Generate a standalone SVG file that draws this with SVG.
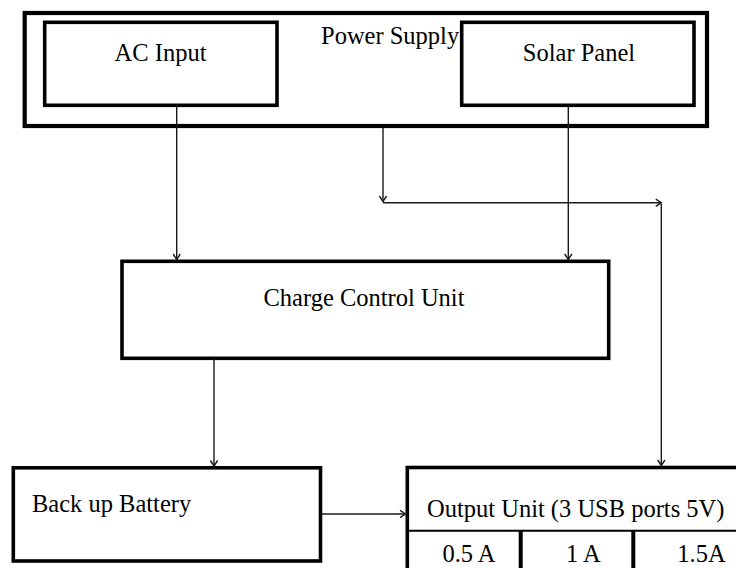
<svg xmlns="http://www.w3.org/2000/svg" width="736" height="568" viewBox="0 0 736 568">
  <style>
    .box { fill: #ffffff; stroke: #000000; stroke-width: 3.6; }
    .outer { fill: #ffffff; stroke: #000000; stroke-width: 4.2; }
    .lbl { font-family: "Liberation Serif", "Times New Roman", serif; font-size: 24.5px; fill: #000000; }
    .mid { text-anchor: middle; }
    .conn { fill: none; stroke: #1a1a1a; stroke-width: 1.4; }
    .thin { fill: none; stroke: #000000; stroke-width: 2; }
    .thick { fill: none; stroke: #000000; stroke-width: 4; }
  </style>
  <defs>
    <marker id="arr" viewBox="-7 -6 10 12" refX="0" refY="0" markerWidth="10" markerHeight="12" markerUnits="userSpaceOnUse" orient="auto">
      <path d="M-5.5,-3.6 L0,0 L-5.5,3.6" fill="none" stroke="#1a1a1a" stroke-width="1.4"/>
    </marker>
  </defs>
  <rect width="736" height="568" fill="#ffffff"/>

  <g id="power-supply">
    <rect class="outer" x="24.7" y="13" width="682.3" height="113"/>
    <text class="lbl" x="321" y="44">Power Supply</text>
  </g>

  <g id="ac-input">
    <rect class="box" x="44.7" y="22.3" width="232.3" height="83"/>
    <text class="lbl mid" x="160.5" y="60.5">AC Input</text>
  </g>

  <g id="solar-panel">
    <rect class="box" x="461.7" y="22.3" width="232.3" height="83"/>
    <text class="lbl mid" x="579" y="60.5">Solar Panel</text>
  </g>

  <g id="charge-control-unit">
    <rect class="box" x="122" y="261.3" width="486.7" height="97"/>
    <text class="lbl mid" x="364" y="306">Charge Control Unit</text>
  </g>

  <g id="backup-battery">
    <rect class="box" x="13.3" y="467.8" width="307.2" height="93.2"/>
    <text class="lbl" x="32" y="512">Back up Battery</text>
  </g>

  <g id="output-unit">
    <rect class="box" x="407.3" y="467.5" width="345" height="110"/>
    <line class="thin" x1="407.3" y1="530.7" x2="740" y2="530.7"/>
    <line class="thick" x1="520.7" y1="530.7" x2="520.7" y2="570"/>
    <line class="thick" x1="633.3" y1="530.7" x2="633.3" y2="570"/>
    <text class="lbl" x="427" y="516.5">Output Unit (3 USB ports 5V)</text>
    <text class="lbl mid" x="469" y="561.5">0.5 A</text>
    <text class="lbl mid" x="583.3" y="561.5">1 A</text>
    <text class="lbl mid" x="701.5" y="561.5">1.5A</text>
  </g>

  <g id="connectors">
    <line class="conn" x1="176.7" y1="105" x2="176.7" y2="259.5" marker-end="url(#arr)"/>
    <line class="conn" x1="568.3" y1="105" x2="568.3" y2="259.5" marker-end="url(#arr)"/>
    <line class="conn" x1="383" y1="128" x2="383" y2="201.5" marker-end="url(#arr)"/>
    <line class="conn" x1="383" y1="202.7" x2="661.3" y2="202.7" marker-end="url(#arr)"/>
    <line class="conn" x1="661.3" y1="204" x2="661.3" y2="465.5" marker-end="url(#arr)"/>
    <line class="conn" x1="214" y1="358.5" x2="214" y2="466" marker-end="url(#arr)"/>
    <line class="conn" x1="322" y1="514" x2="405.5" y2="514" marker-end="url(#arr)"/>
  </g>
</svg>
